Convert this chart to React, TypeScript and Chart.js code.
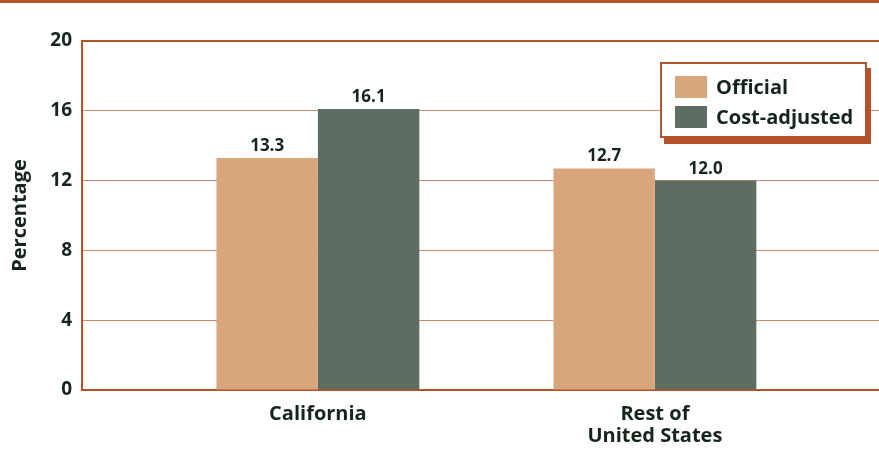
import React, { useEffect, useRef } from "react";
import { Chart, registerables } from "chart.js";

Chart.register(...registerables);

const categories: (string | string[])[] = ["California", ["Rest of", "United States"]];
const seriesNames = ["Official", "Cost-adjusted"];
const officialValues = [13.3, 12.7];
const costAdjustedValues = [16.1, 12.0];
const yTicks = [0, 4, 8, 12, 16, 20];

const BROWN = "#B4532A";
const GRID = "#D28A68";
const OFFICIAL = "#D7A67C";
const COST = "#5D6D62";
const TEXT = "#15251C";
const FONT = "'Open Sans', 'Noto Sans', sans-serif";

const decoPlugin = {
  id: "deco",
  beforeDraw(chart: any) {
    const ctx = chart.ctx;
    ctx.save();
    ctx.fillStyle = BROWN;
    ctx.fillRect(0, 0, chart.width, 3);
    ctx.restore();
  },
  afterDatasetsDraw(chart: any) {
    const ctx = chart.ctx;
    ctx.save();
    ctx.fillStyle = TEXT;
    ctx.font = `bold 17px ${FONT}`;
    ctx.textAlign = "center";
    ctx.textBaseline = "alphabetic";
    chart.data.datasets.forEach((ds: any, di: number) => {
      const meta = chart.getDatasetMeta(di);
      meta.data.forEach((bar: any, i: number) => {
        const v = ds.data[i].y;
        ctx.fillText(v.toFixed(1), bar.x, bar.y - 7);
      });
    });
    ctx.restore();
  },
  afterDraw(chart: any) {
    const ctx = chart.ctx;
    ctx.save();
    const x = 660, y = 62, w = 207, h = 76;
    ctx.fillStyle = BROWN;
    ctx.fillRect(x + 4, y + 6, w, h);
    ctx.fillStyle = "#ffffff";
    ctx.fillRect(x, y, w, h);
    ctx.strokeStyle = BROWN;
    ctx.lineWidth = 2;
    ctx.strokeRect(x + 1, y + 1, w - 2, h - 2);
    const colors = [OFFICIAL, COST];
    ctx.font = `bold 20px ${FONT}`;
    ctx.textBaseline = "alphabetic";
    ctx.textAlign = "left";
    seriesNames.forEach((name, i) => {
      const sy = 76 + i * 30;
      ctx.fillStyle = colors[i];
      ctx.fillRect(675, sy, 32, 22);
      ctx.fillStyle = TEXT;
      ctx.fillText(name, 716, sy + 18);
    });
    ctx.restore();
  },
};

export default function App() {
  const ref = useRef<HTMLCanvasElement | null>(null);
  useEffect(() => {
    if (!ref.current) return;
    const chart = new Chart(ref.current, {
      type: "bar",
      data: {
        datasets: [
          {
            label: seriesNames[0],
            data: officialValues.map((v, i) => ({ x: i, y: v })),
            backgroundColor: OFFICIAL,
          },
          {
            label: seriesNames[1],
            data: costAdjustedValues.map((v, i) => ({ x: i, y: v })),
            backgroundColor: COST,
          },
        ],
      },
      options: {
        animation: false,
        responsive: false,
        maintainAspectRatio: false,
        datasets: { bar: { categoryPercentage: 0.602, barPercentage: 1 } },
        layout: { padding: { top: 41, right: 0, bottom: 0, left: 0 } },
        plugins: { legend: { display: false }, tooltip: { enabled: false } },
        scales: {
          x: {
            type: "linear",
            min: -0.7,
            max: 1.665,
            offset: false,
            afterBuildTicks: (scale: any) => {
              scale.ticks = categories.map((_, i) => ({ value: i }));
            },
            afterFit: (scale: any) => {
              scale.height = 60;
            },
            grid: { display: true, drawOnChartArea: false, drawTicks: false, color: "transparent" },
            border: { display: true, color: BROWN, width: 2 },
            ticks: {
              autoSkip: false,
              maxRotation: 0,
              minRotation: 0,
              padding: 13,
              color: TEXT,
              font: { family: FONT, size: 20, weight: "bold", lineHeight: 1.12 },
              callback: (v: any) => categories[v as number] ?? "",
            },
          },
          y: {
            min: 0,
            max: 20,
            afterBuildTicks: (scale: any) => {
              scale.ticks = yTicks.map((v) => ({ value: v }));
            },
            afterFit: (scale: any) => {
              scale.width = 82;
            },
            grid: {
              drawTicks: false,
              color: (c: any) => (c.tick && c.tick.value === 20 ? BROWN : c.tick && c.tick.value === 0 ? "transparent" : GRID),
              lineWidth: (c: any) => (c.tick && c.tick.value === 20 ? 2 : 1),
            },
            border: { display: true, color: BROWN, width: 2 },
            ticks: {
              padding: 10,
              color: TEXT,
              font: { family: FONT, size: 19, weight: "bold" },
            },
            title: {
              display: true,
              text: "Percentage",
              color: TEXT,
              padding: { top: 8, bottom: 0 },
              font: { family: FONT, size: 20, weight: "bold" },
            },
          },
        },
      },
      plugins: [decoPlugin],
    } as any);
    return () => chart.destroy();
  }, []);
  return (
    <div style={{ position: "absolute", left: 0, top: 0, width: 879, height: 450, background: "#fff" }}>
      <canvas ref={ref} width={879} height={450} style={{ width: 879, height: 450, display: "block" }} />
    </div>
  );
}
